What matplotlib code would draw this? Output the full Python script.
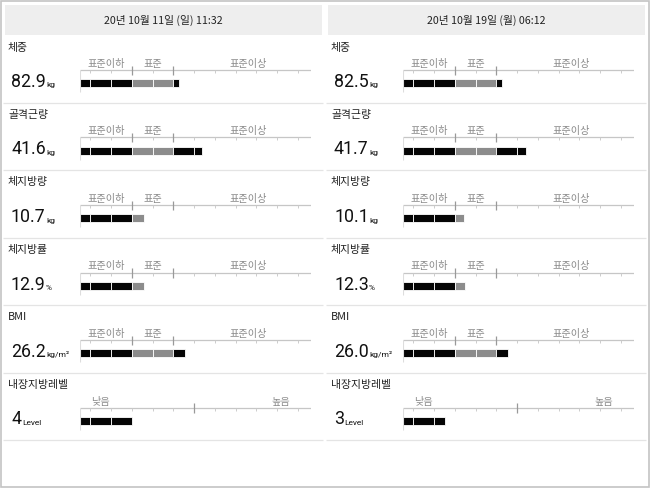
import numpy as np
import matplotlib
matplotlib.use("Agg")
import matplotlib.pyplot as plt
from matplotlib.patches import Rectangle
from matplotlib.textpath import TextPath
from matplotlib.font_manager import FontProperties

# single families only: a fallback list mixes up kerning between fonts
KR = 'Noto Sans CJK KR'
NUM = 'Roboto'

# chart data
dates = ['20년 10월 11일 (일) 11:32', '20년 10월 19일 (월) 06:12']
metrics = ['체중', '골격근량', '체지방량', '체지방률', 'BMI', '내장지방레벨']
units = ['kg', 'kg', 'kg', '%', 'kg/m²', 'Level']
values_1 = [82.9, 41.6, 10.7, 12.9, 26.2, 4]
values_2 = [82.5, 41.7, 10.1, 12.3, 26.0, 3]
# bar length in scale blocks (first block is half width)
bar_len_1 = [4.77, 5.87, 3.08, 3.10, 5.08, 2.5]
bar_len_2 = [4.78, 5.93, 2.95, 3.01, 5.07, 2.0]
zone_labels = ['표준이하', '표준', '표준이상']
zone_edges = [2.5, 4.5]
level_labels = ['낮음', '높음']
level_edges = [5.5]

W, H = 650, 488
DPI = 100
SCALE_MAX = 11.15
UNIT_PX = 20.75
HEAD_H = 35
ROW_H = 67.5
VAL_SIZE = 12.8

fig = plt.figure(figsize=(W / DPI, H / DPI), dpi=DPI)
fig.patch.set_facecolor('white')
renderer = fig.canvas.get_renderer()

bg = fig.add_axes([0, 0, 1, 1])
bg.set_xlim(0, W)
bg.set_ylim(H, 0)
bg.axis('off')

# outer frame
bg.add_patch(Rectangle((0.8, 0.8), W - 1.6, H - 1.6, fill=False,
                       edgecolor='#c4c4c4', linewidth=1.2))


def px_axes(x, y, w, h):
    return fig.add_axes([x / W, 1 - (y + h) / H, w / W, h / H])


def ink_width_px(s, size, family):
    # right edge of the glyph ink, in pixels
    ext = TextPath((0, 0), s, size=size,
                   prop=FontProperties(family=family)).get_extents()
    return ext.x1 * DPI / 72


def draw_bar(ax, length, is_level):
    ax.set_xlim(0, SCALE_MAX)
    ax.set_ylim(42, 0)
    ax.axis('off')
    edges = np.concatenate([[0.0], np.arange(0.5, SCALE_MAX, 1.0)])
    for a, b in zip(edges[:-1], edges[1:]):
        if a >= length:
            break
        end = min(b, length)
        grey = (not is_level) and zone_edges[0] <= a < zone_edges[1]
        ax.barh(30, end - a, left=a, height=8,
                color='#8c8c8c' if grey else '#050505',
                edgecolor='white', linewidth=0.6)
    # scale line and ticks
    ax.hlines(17, 0, SCALE_MAX, color='#c6c6c6', linewidth=0.9)
    ax.vlines(0, 17, 39, color='#dddddd', linewidth=0.8)
    majors = level_edges if is_level else zone_edges
    minors = [t for t in np.arange(0.5, SCALE_MAX, 1.0) if t not in majors]
    ax.vlines(minors, 17, 20, color='#cccccc', linewidth=0.7)
    ax.vlines(majors, 12.5, 22, color='#999999', linewidth=0.9)
    if is_level:
        for lab, xc in zip(level_labels, [1.0, 9.66]):
            ax.text(xc, 11, lab, ha='center', va='center', fontsize=7.3,
                    color='#8a8a8a', family=KR)
    else:
        for lab, xc in zip(zone_labels, [1.27, 3.52, 8.1]):
            ax.text(xc, 11, lab, ha='center', va='center', fontsize=7.3,
                    color='#8a8a8a', family=KR)


panels = [(5, 322, 80, dates[0], values_1, bar_len_1),
          (328, 645, 403, dates[1], values_2, bar_len_2)]

for x_left, x_right, bar_x0, date, vals, lens in panels:
    # header band
    bg.add_patch(Rectangle((x_left, 5), x_right - x_left, HEAD_H - 5,
                           facecolor='#eeeeee', edgecolor='none'))
    bg.text((x_left + x_right) / 2, 20.5, date, ha='center', va='center',
            fontsize=7.7, color='#222222', family=KR)
    for i, (name, unit, v, ln) in enumerate(zip(metrics, units, vals, lens)):
        top = HEAD_H + i * ROW_H
        bg.hlines(top + ROW_H, x_left - 2, x_right + 1, color='#e4e4e4',
                  linewidth=0.9)
        bg.text(x_left + 3, top + 12.5, name, ha='left', va='center',
                fontsize=7.8, color='#222222', family=KR)
        is_level = unit == 'Level'
        txt = '%d' % v if is_level else '%.1f' % v
        vx = x_left + 6
        t = bg.text(vx, top + 52, txt, ha='left', va='baseline',
                    fontsize=VAL_SIZE, color='#111111', family=NUM)
        # unit sits right after the number, clear of its text box
        box_w = t.get_window_extent(renderer).width
        ux = max(vx + ink_width_px(txt, VAL_SIZE, NUM) + 1.2, vx + box_w + 0.3)
        bg.text(ux, top + 52.5, unit, ha='left', va='baseline',
                fontsize=6, color='#111111', family=NUM)
        ax = px_axes(bar_x0, top + 18, SCALE_MAX * UNIT_PX, 42)
        draw_bar(ax, ln, is_level)

fig.savefig('out.png', dpi=DPI, facecolor='white')
